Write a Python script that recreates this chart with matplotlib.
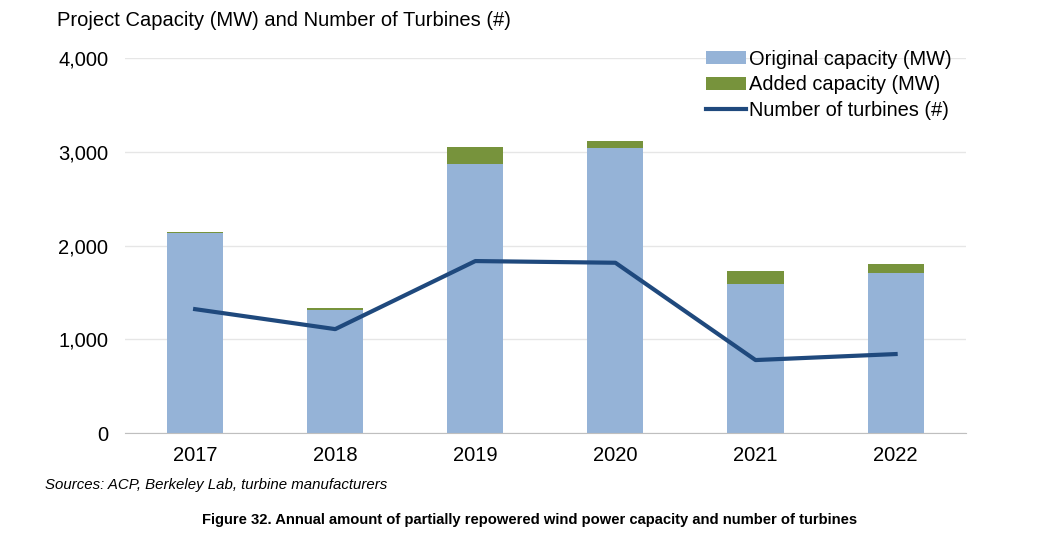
import numpy as np
import matplotlib
matplotlib.use("Agg")
from matplotlib import pyplot as plt
from matplotlib.ticker import FuncFormatter

years = ['2017', '2018', '2019', '2020', '2021', '2022']
original_mw = [2130, 1312, 2869, 3037, 1589, 1703]
added_mw = [14, 18, 178, 78, 142, 100]
turbines = [1322, 1109, 1835, 1817, 779, 843]

plt.rcParams['font.family'] = ['Liberation Sans', 'DejaVu Sans']

fig = plt.figure(figsize=(10.6, 5.38), dpi=100)
ax = fig.add_axes([0.118, 0.195, 0.793, 0.697])

x = np.arange(len(years))
b1 = ax.bar(x, original_mw, width=0.4, color='#95B3D7', label='Original capacity (MW)', zorder=2)
b2 = ax.bar(x, added_mw, width=0.4, bottom=original_mw, color='#77933C', label='Added capacity (MW)', zorder=2)
ln, = ax.plot(x, turbines, color='#1F497D', lw=3, label='Number of turbines (#)', zorder=3)

ax.set_xlim(-0.5, len(years) - 0.5)
ax.set_ylim(0, 4000)
ax.set_yticks([0, 1000, 2000, 3000, 4000])
ax.yaxis.set_major_formatter(FuncFormatter(lambda v, p: f'{int(v):,}'))
ax.set_xticks(x)
ax.set_xticklabels(years)
ax.tick_params(axis='both', labelsize=14.5, length=0)
ax.tick_params(axis='x', pad=9)
ax.tick_params(axis='y', pad=12)
ax.grid(axis='y', color='#e6e6e6', lw=1, zorder=0)
for s in ['top', 'right', 'left']:
    ax.spines[s].set_visible(False)
ax.spines['bottom'].set_color('#bfbfbf')

ax.legend([b1, b2, ln], [b1.get_label(), b2.get_label(), ln.get_label()],
          loc='upper right', bbox_to_anchor=(1.005, 1.07), frameon=False, fontsize=14.4,
          handlelength=2.0, handleheight=0.6, handletextpad=0.15, labelspacing=0.32)

fig.text(0.054, 0.962, 'Project Capacity (MW) and Number of Turbines (#)', fontsize=14.5, va='center')
fig.text(0.042, 0.098, 'Sources: ACP, Berkeley Lab, turbine manufacturers', fontsize=10.8,
         style='italic', va='center')
fig.text(0.5, 0.034, 'Figure 32. Annual amount of partially repowered wind power capacity and number of turbines',
         fontsize=10.6, weight='bold', ha='center', va='center')

fig.savefig('out.png', dpi=100)
